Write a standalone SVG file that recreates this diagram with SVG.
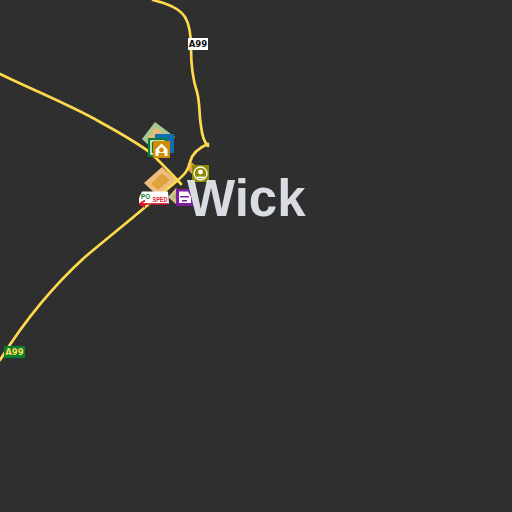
<svg xmlns="http://www.w3.org/2000/svg" width="512" height="512" viewBox="0 0 512 512">
<style>
.road{fill:none;stroke:#ffd84d;stroke-width:2.7;stroke-linejoin:round;stroke-linecap:round}
.ref{font:bold 8.500px "DejaVu Sans",sans-serif;text-anchor:middle}
.ic{fill:none;stroke:#fff;stroke-width:1.4}
</style>
<rect width="512" height="512" fill="#2f2f2f"/>
<g id="areas">
<polygon points="155,122 175,137 160,156 142,139" fill="#a8c890"/>
<polygon points="155,127 168,137 158,150 147,140" fill="#e8b878"/>
<polygon points="162,167 177,181 159,197 144,183" fill="#eebd80"/>
<polygon points="162,173 170,180 158,190 151,184" fill="#dfa23d"/>
<polygon points="176,188 187,198 178,206 168,197" fill="#d9bc83"/>
<polygon points="177,192 183,197 178,201 172,197" fill="#9fb978"/>
<polygon points="191,162 199,168 194,176 188,170" fill="#d9a245"/>
</g>
<g id="connectors">
<path class="road" d="M153,0C168,4 179,8 185,17C190,25 191,36 191,48C191,62 192,77 197,92C200,102 199,115 201,126C202,135 204,142 208,146"/>
<path class="road" d="M208,144C198,148 192,154 190,162C188,170 186,173 178,180C168,189 158,196 150,203C128,222 105,240 85,257C52,287 25,320 0,360"/>
<path class="road" d="M0,74C35,91 70,105 100,122C120,133 138,143 152,154C160,162 170,172 181,184"/>
</g>
<g id="poi-blue"><rect x="155" y="134" width="19" height="19" fill="#0f6fb0"/></g>
<g id="poi-green"><rect x="148" y="138" width="19" height="19" fill="#0a7d33"/><path class="ic" d="M151,141h13v13h-13z"/></g>
<g id="poi-amber"><rect x="153" y="141" width="17" height="17" fill="#d28a00"/><path d="M161.500,143.500L167.500,149.500V156H155.500V149.500Z" fill="#fff"/><circle cx="161.500" cy="150" r="2.400" fill="#d28a00"/><rect x="158.500" y="153" width="6" height="3" fill="#d28a00"/></g>
<g id="poi-purple"><rect x="176" y="189" width="17" height="17" fill="#7b1fa2"/><path d="M179,191.500H188L191,197V203H179Z" fill="#fff"/><rect x="180" y="196" width="9" height="1.500" fill="#7b1fa2"/><rect x="182" y="200" width="5" height="1.500" fill="#7b1fa2"/></g>
<g id="poi-olive"><rect x="192" y="165" width="17" height="17" fill="#8f8a00"/><circle cx="200.500" cy="173.500" r="6.500" fill="none" stroke="#fff" stroke-width="1.300"/><circle cx="200.500" cy="172" r="2.400" fill="#fff"/><path d="M196.500,177.500h8" stroke="#fff" stroke-width="1.800"/></g>
<g id="poi-pospel">
<path d="M142,191.500H168L169,203.500H139L139,198Z" fill="#fff"/>
<path d="M168,204H141M145,200.500L139.500,204L145,207" fill="none" stroke="#d9182d" stroke-width="1.600"/>
<text x="141" y="199" font-family="'Liberation Sans',sans-serif" font-size="8" font-weight="700" fill="#0a7d33" textLength="9" lengthAdjust="spacingAndGlyphs">PO</text>
<text x="152.500" y="202" font-family="'Liberation Sans',sans-serif" font-size="8" font-weight="700" fill="#d9182d" textLength="15" lengthAdjust="spacingAndGlyphs">SPED</text>
</g>
<g id="label-wick"><text x="187" y="215.500" font-family="'Liberation Sans',Arial,sans-serif" font-size="51" font-weight="700" fill="#d9dde1">Wick</text></g>
<g id="shield-a99-north"><rect x="188" y="38" width="20" height="12" fill="#fff"/><text class="ref" x="198" y="47.200" fill="#111">A99</text></g>
<g id="shield-a99-south"><rect x="4" y="346" width="21" height="12" fill="#0a7d33"/><text class="ref" x="14.500" y="355.200" fill="#ffd84d">A99</text></g>
</svg>
